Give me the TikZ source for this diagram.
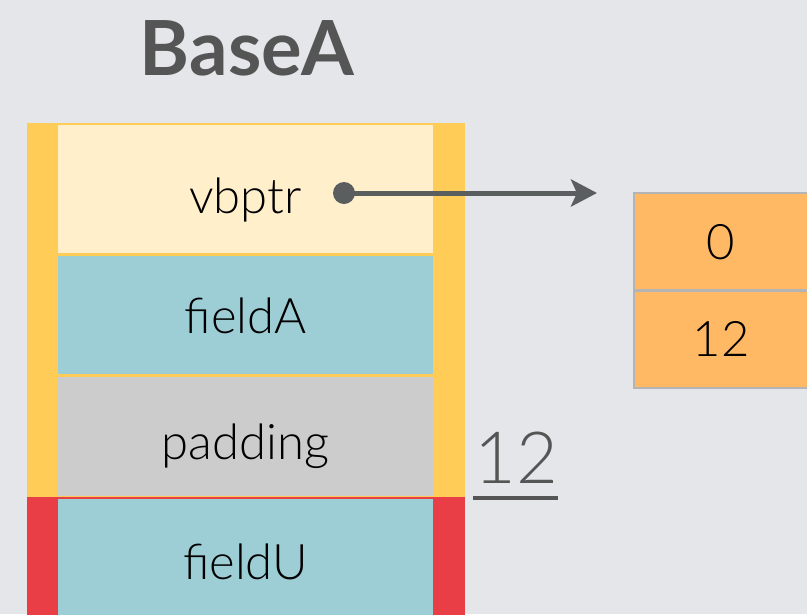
\documentclass[tikz,border=0pt]{standalone}
\usepackage{fontspec}
\setmainfont{Lato}
\newfontfamily\lightfont{Lato Light}
\usetikzlibrary{arrows.meta}
\definecolor{bg}{HTML}{E4E6EA}
\definecolor{ybar}{HTML}{FFCD57}
\definecolor{rbar}{HTML}{E93E46}
\definecolor{vbfill}{HTML}{FFEFCB}
\definecolor{tealfill}{HTML}{9DCDD5}
\definecolor{padfill}{HTML}{CCCCCC}
\definecolor{vtfill}{HTML}{FFB964}
\definecolor{vtline}{HTML}{B4B4B4}
\definecolor{darkgray}{HTML}{555555}
\definecolor{arrowgray}{HTML}{5A5E5E}
\begin{document}
\begin{tikzpicture}[x=1pt,y=-1pt,
  bar/.style={inner sep=0pt, minimum width=438pt},
  cell/.style={inner sep=0pt, minimum width=375pt},
  celltext/.style={inner sep=0pt, font=\lightfont\fontsize{49}{58}\selectfont, text=black},
  vtcell/.style={draw=vtline, line width=2.5pt, fill=vtfill, inner sep=0pt, minimum width=174pt, minimum height=97.5pt, font=\lightfont\fontsize{49}{58}\selectfont, text=black},
  ptr/.style={draw=arrowgray, line width=5pt, -{Stealth[length=26pt, width=27pt, inset=6pt]}}
]
\fill[bg] (0,0) rectangle (807,614);
\useasboundingbox (0,0) rectangle (807,614);

\node[font=\fontsize{76}{80}\selectfont\bfseries, text=darkgray] (title) at (247,48) {BaseA};

\node[bar, fill=ybar, minimum height=374pt] (ybox) at (246,310) {};
\node[bar, fill=rbar, minimum height=130pt] (rbox) at (246,562) {};

\node[cell, fill=vbfill, minimum height=128pt] (vbptr) at (245.5,189) {};
\node[cell, fill=tealfill, minimum height=118pt] (fieldA) at (245.5,315) {};
\node[cell, fill=padfill, minimum height=119pt] (padding) at (245.5,436.5) {};
\node[cell, fill=tealfill, minimum height=130pt] (fieldU) at (245.5,564) {};

\node[celltext] (vbptrtext) at ([yshift=-11pt]vbptr.center) {vbptr};
\node[celltext] (fieldAtext) at ([yshift=-1pt]fieldA.center) {fieldA};
\node[celltext] (paddingtext) at ([yshift=-10pt]padding.center) {padding};
\node[celltext] (fieldUtext) at ([yshift=2pt]fieldU.center) {fieldU};

\node[vtcell] (vt0) at (721,241.75) {0};
\node[vtcell] (vt1) at (721,339.25) {12};

\node[circle, fill=arrowgray, minimum size=22pt, inner sep=0pt] (dot) at (344,193) {};
\coordinate (tip) at (597,193);
\draw[ptr] (dot.center) -- (tip);

\node[font=\lightfont\fontsize{72}{76}\selectfont, text=darkgray, inner sep=0pt] (size) at (516,458) {12};
\coordinate (ul1) at (473,498);
\coordinate (ul2) at (558,498);
\draw[darkgray, line width=3.5pt] (ul1) -- (ul2);
\end{tikzpicture}
\end{document}
